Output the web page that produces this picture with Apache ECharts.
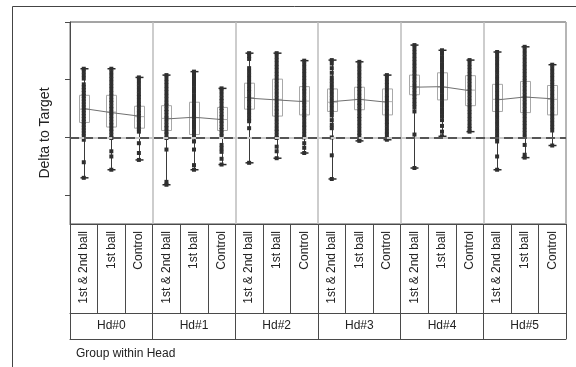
<!DOCTYPE html>
<html>
<head>
<meta charset="utf-8">
<script src="https://cdn.jsdelivr.net/npm/echarts@6/dist/echarts.min.js"></script>
<style>
  html, body { margin: 0; padding: 0; background: #fff; }
  #chart { width: 576px; height: 367px; }
</style>
</head>
<body>
<div id="chart"></div>
<script>
// categories
const heads = ["Hd#0", "Hd#1", "Hd#2", "Hd#3", "Hd#4", "Hd#5"];
const groups = ["1st & 2nd ball", "1st ball", "Control"];
const yTicks = [-1, 0, 1, 2];

// box stats per head/group (18 cells, Hd#0..Hd#5 x 3 groups)
const whiskerLow = [-0.70, -0.56, -0.39, -0.82, -0.56, -0.47, -0.44, -0.36, -0.27, -0.72, -0.06, -0.04, -0.53, 0.02, 0.10, -0.56, -0.35, -0.14];
const q1 = [0.26, 0.18, 0.16, 0.12, 0.05, 0.12, 0.49, 0.37, 0.39, 0.45, 0.48, 0.39, 0.74, 0.65, 0.55, 0.45, 0.43, 0.39];
const medians = [0.49, 0.44, 0.36, 0.33, 0.34, 0.31, 0.69, 0.66, 0.63, 0.61, 0.66, 0.62, 0.88, 0.87, 0.82, 0.66, 0.70, 0.66];
const q3 = [0.73, 0.73, 0.54, 0.55, 0.61, 0.52, 0.94, 1.01, 0.88, 0.84, 0.87, 0.84, 1.08, 1.12, 1.07, 0.92, 0.97, 0.90];
const whiskerHigh = [1.19, 1.19, 1.04, 1.08, 1.14, 0.85, 1.46, 1.46, 1.33, 1.34, 1.31, 1.08, 1.60, 1.51, 1.34, 1.48, 1.57, 1.26];
const means = [0.50, 0.43, 0.37, 0.32, 0.35, 0.31, 0.68, 0.65, 0.62, 0.62, 0.66, 0.61, 0.87, 0.88, 0.81, 0.65, 0.70, 0.67];

// raw points per cell
const points = [
  [1.19, 1.14, 1.08, 1.02, 0.92, 0.87, 0.82, 0.77, 0.72, 0.67, 0.62, 0.57, 0.52, 0.47, 0.42, 0.37, 0.32, 0.27, 0.22, 0.17, 0.12, 0.07, 0.02, -0.04, -0.43, -0.70],
  [1.19, 1.13, 1.07, 1.01, 0.95, 0.89, 0.83, 0.77, 0.71, 0.65, 0.60, 0.54, 0.49, 0.43, 0.38, 0.32, 0.26, 0.21, 0.15, 0.10, 0.04, -0.01, -0.24, -0.33, -0.56],
  [1.04, 0.99, 0.93, 0.87, 0.81, 0.75, 0.70, 0.64, 0.58, 0.53, 0.47, 0.42, 0.37, 0.31, 0.26, 0.20, 0.15, 0.10, -0.10, -0.27, -0.39],
  [1.08, 1.02, 0.96, 0.90, 0.84, 0.78, 0.72, 0.66, 0.60, 0.55, 0.49, 0.44, 0.38, 0.33, 0.27, 0.21, 0.16, 0.10, 0.05, -0.01, -0.21, -0.77, -0.82],
  [1.14, 1.09, 1.03, 0.97, 0.91, 0.85, 0.79, 0.73, 0.67, 0.62, 0.56, 0.50, 0.45, 0.39, 0.34, 0.28, 0.22, 0.17, 0.11, 0.06, 0.00, -0.07, -0.21, -0.48, -0.56],
  [0.85, 0.80, 0.74, 0.68, 0.63, 0.57, 0.51, 0.46, 0.40, 0.35, 0.29, 0.24, 0.18, 0.13, 0.07, 0.02, -0.13, -0.19, -0.25, -0.37, -0.47],
  [1.46, 1.41, 1.36, 1.20, 1.14, 1.08, 1.02, 0.96, 0.90, 0.84, 0.79, 0.73, 0.67, 0.62, 0.56, 0.51, 0.45, 0.39, 0.33, 0.28, 0.16, -0.44],
  [1.46, 1.40, 1.34, 1.28, 1.22, 1.16, 1.10, 1.04, 0.98, 0.92, 0.86, 0.80, 0.74, 0.68, 0.62, 0.56, 0.50, 0.45, 0.39, 0.33, 0.27, 0.21, 0.15, 0.10, 0.04, -0.01, -0.16, -0.24, -0.36],
  [1.33, 1.27, 1.21, 1.15, 1.09, 1.03, 0.97, 0.91, 0.85, 0.80, 0.74, 0.68, 0.62, 0.57, 0.51, 0.45, 0.39, 0.34, 0.28, 0.22, 0.17, 0.11, 0.05, 0.00, -0.10, -0.18, -0.27],
  [1.34, 1.28, 1.20, 1.12, 1.04, 0.98, 0.92, 0.86, 0.80, 0.74, 0.68, 0.62, 0.56, 0.50, 0.44, 0.38, 0.30, 0.22, 0.16, 0.00, -0.31, -0.72],
  [1.31, 1.25, 1.19, 1.13, 1.07, 1.01, 0.95, 0.89, 0.84, 0.78, 0.72, 0.66, 0.60, 0.55, 0.49, 0.43, 0.37, 0.32, 0.26, 0.20, 0.14, 0.08, 0.03, -0.03, -0.06],
  [1.08, 1.02, 0.96, 0.91, 0.85, 0.79, 0.73, 0.68, 0.62, 0.56, 0.50, 0.45, 0.39, 0.33, 0.27, 0.22, 0.16, 0.10, 0.05, -0.01, -0.04],
  [1.60, 1.54, 1.48, 1.42, 1.36, 1.30, 1.24, 1.18, 1.12, 1.06, 1.00, 0.94, 0.88, 0.82, 0.76, 0.70, 0.64, 0.58, 0.52, 0.45, 0.05, -0.53],
  [1.51, 1.45, 1.39, 1.33, 1.27, 1.21, 1.15, 1.09, 1.03, 0.97, 0.91, 0.85, 0.79, 0.73, 0.67, 0.61, 0.55, 0.49, 0.43, 0.37, 0.30, 0.20, 0.10, 0.02],
  [1.34, 1.28, 1.22, 1.16, 1.10, 1.04, 0.98, 0.92, 0.86, 0.80, 0.74, 0.68, 0.62, 0.56, 0.50, 0.44, 0.38, 0.32, 0.26, 0.20, 0.15, 0.10],
  [1.48, 1.42, 1.36, 1.30, 1.24, 1.18, 1.12, 1.06, 1.00, 0.94, 0.88, 0.82, 0.76, 0.70, 0.64, 0.58, 0.52, 0.46, 0.40, 0.34, 0.28, 0.22, 0.16, 0.10, 0.04, -0.02, -0.07, -0.33, -0.56],
  [1.57, 1.51, 1.45, 1.39, 1.33, 1.27, 1.21, 1.15, 1.09, 1.03, 0.97, 0.91, 0.85, 0.79, 0.73, 0.67, 0.61, 0.55, 0.49, 0.43, 0.37, 0.31, 0.25, 0.19, 0.13, 0.07, 0.01, -0.13, -0.30, -0.35],
  [1.26, 1.20, 1.14, 1.08, 1.02, 0.96, 0.90, 0.84, 0.78, 0.72, 0.66, 0.60, 0.54, 0.48, 0.42, 0.36, 0.30, 0.24, 0.18, 0.12, -0.14]
];

const FONT = "Liberation Sans, Arial, sans-serif";
const DARK = "#4a4a4a";

const cells = [];
heads.forEach(() => groups.forEach(g => cells.push(g)));

const boxData = cells.map((c, i) => [i, whiskerLow[i], q1[i], medians[i], q3[i], whiskerHigh[i]]);
const scatterData = [];
points.forEach((arr, i) => arr.forEach(v => scatterData.push([i, v])));

const meanSeries = heads.map((h, k) => ({
  type: "line",
  name: h,
  xAxisIndex: 0,
  data: groups.map((g, j) => [k * 3 + j, means[k * 3 + j]]),
  symbol: "none",
  lineStyle: { color: "#707070", width: 1 },
  z: 3,
  silent: true
}));

const chart = echarts.init(document.getElementById("chart"), null, { renderer: "canvas" });
chart.setOption({
  animation: false,
  backgroundColor: "#fff",
  textStyle: { fontFamily: FONT },
  title: {
    text: "Group within Head",
    left: 71,
    top: 343,
    textStyle: { fontSize: 12, fontWeight: "normal", color: "#222", fontFamily: FONT }
  },
  graphic: [
    {
      type: "polyline",
      shape: { points: [[12.5, 367], [12.5, 6.5], [576, 6.5]] },
      style: { stroke: "#444", lineWidth: 1, fill: null },
      silent: true
    }
  ],
  grid: {
    left: 70, right: 10, top: 22, bottom: 143,
    show: true, borderColor: DARK, borderWidth: 1
  },
  xAxis: [
    {
      type: "category",
      data: cells,
      position: "bottom",
      axisLine: { onZero: false, lineStyle: { color: DARK, width: 1 } },
      axisTick: { show: true, interval: 0, length: 89, lineStyle: { color: DARK } },
      axisLabel: { interval: 0, rotate: 90, margin: 7, fontSize: 12, color: "#222", fontFamily: FONT },
      splitLine: { show: false }
    },
    {
      type: "category",
      data: heads,
      position: "bottom",
      offset: 89,
      axisLine: { onZero: false, lineStyle: { color: DARK, width: 1 } },
      axisTick: { show: true, interval: 0, length: 26, lineStyle: { color: DARK } },
      axisLabel: { interval: 0, margin: 7, fontSize: 12, color: "#222", fontFamily: FONT },
      splitLine: { show: true, interval: 0, lineStyle: { color: "#bdbdbd", width: 1.5 } }
    },
    {
      type: "category",
      data: [""],
      position: "bottom",
      offset: 115,
      axisLine: { onZero: false, lineStyle: { color: DARK, width: 1 } },
      axisTick: { show: false },
      axisLabel: { show: false }
    }
  ],
  yAxis: {
    type: "value",
    min: -1.5,
    max: 2,
    name: "Delta to Target",
    nameLocation: "middle",
    nameGap: 18,
    nameTextStyle: { fontSize: 14, color: "#222", fontFamily: FONT, padding: [0, 20, 0, 0] },
    axisLine: { show: true, lineStyle: { color: DARK, width: 1 } },
    axisTick: { show: true, length: 5, customValues: yTicks, lineStyle: { color: DARK } },
    axisLabel: { show: false },
    splitLine: { show: false }
  },
  series: [
    {
      type: "custom",
      xAxisIndex: 0,
      data: boxData,
      encode: { x: 0, y: [1, 2, 3, 4, 5] },
      z: 2,
      silent: true,
      renderItem: function (params, api) {
        const i = api.value(0);
        const lo = api.coord([i, api.value(1)]);
        const b1 = api.coord([i, api.value(2)]);
        const md = api.coord([i, api.value(3)]);
        const b3 = api.coord([i, api.value(4)]);
        const hi = api.coord([i, api.value(5)]);
        const x = Math.round(lo[0]) + 0.5;
        return {
          type: "group",
          children: [
            { type: "rect", shape: { x: x - 5, y: b3[1], width: 10, height: b1[1] - b3[1] }, style: { fill: "none", stroke: "#a8a8a8", lineWidth: 1 } },
            { type: "line", shape: { x1: x - 5, y1: md[1], x2: x + 5, y2: md[1] }, style: { stroke: "#b0b0b0", lineWidth: 1 } },
            { type: "line", shape: { x1: x, y1: hi[1], x2: x, y2: lo[1] }, style: { stroke: "#3a3a3a", lineWidth: 1 } },
            { type: "line", shape: { x1: x - 4, y1: hi[1], x2: x + 4, y2: hi[1] }, style: { stroke: "#2a2a2a", lineWidth: 1.5 } },
            { type: "line", shape: { x1: x - 4, y1: lo[1], x2: x + 4, y2: lo[1] }, style: { stroke: "#2a2a2a", lineWidth: 1.5 } }
          ]
        };
      }
    },
    ...meanSeries,
    {
      type: "scatter",
      xAxisIndex: 0,
      data: scatterData,
      symbol: "rect",
      symbolSize: [4, 4],
      itemStyle: { color: "#2f2f2f", opacity: 1 },
      z: 4,
      silent: true,
      markLine: {
        silent: true,
        symbol: "none",
        label: { show: false },
        z: 5,
        data: [
          { yAxis: 0, lineStyle: { type: "solid", color: "#c8c8c8", width: 2 } },
          { yAxis: 0, lineStyle: { type: [9, 5], color: "#555", width: 2 } }
        ]
      }
    }
  ]
});
</script>
</body>
</html>
